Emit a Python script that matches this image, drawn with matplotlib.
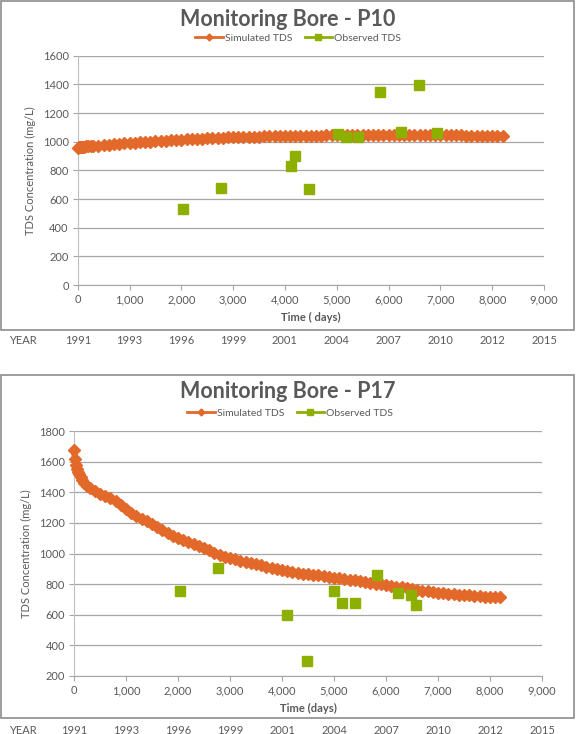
import matplotlib.pyplot as plt
from matplotlib.lines import Line2D
from matplotlib.patches import Rectangle
from matplotlib.ticker import FuncFormatter
import matplotlib.transforms as mtransforms

plt.rcParams['font.family'] = ['Lato', 'DejaVu Sans']

# simulated series time steps (days)
sim_days = [0, 20, 40, 60, 80, 100, 130, 160, 200, 250, 300,
            400, 500, 600, 700, 800, 900, 1000, 1100, 1200, 1300,
            1400, 1500, 1600, 1700, 1800, 1900, 2000, 2100, 2200, 2300,
            2400, 2500, 2600, 2700, 2800, 2900, 3000, 3100, 3200, 3300,
            3400, 3500, 3600, 3700, 3800, 3900, 4000, 4100, 4200, 4300,
            4400, 4500, 4600, 4700, 4800, 4900, 5000, 5100, 5200, 5300,
            5400, 5500, 5600, 5700, 5800, 5900, 6000, 6100, 6200, 6300,
            6400, 6500, 6600, 6700, 6800, 6900, 7000, 7100, 7200, 7300,
            7400, 7500, 7600, 7700, 7800, 7900, 8000, 8100, 8200]

# P10
p10_sim = [955, 960, 962, 963, 964, 965, 966, 967, 968, 969, 970,
           973, 976, 979, 982, 985, 988, 992, 994, 996, 998,
           1000, 1003, 1005, 1007, 1010, 1012, 1015, 1017, 1018, 1020,
           1022, 1024, 1025, 1027, 1029, 1030, 1031, 1032, 1033, 1034,
           1035, 1036, 1037, 1038, 1039, 1039, 1040, 1040, 1041, 1041,
           1042, 1042, 1043, 1043, 1044, 1044, 1045, 1045, 1046, 1046,
           1047, 1048, 1049, 1049, 1050, 1050, 1049, 1049, 1048, 1047,
           1047, 1046, 1046, 1045, 1045, 1045, 1044, 1044, 1044, 1044,
           1044, 1043, 1043, 1043, 1043, 1043, 1043, 1043, 1043]
p10_obs_days = [2040, 2770, 4110, 4200, 4470, 5020, 5170, 5415, 5835, 6235, 6580, 6940]
p10_obs = [528, 680, 830, 900, 670, 1052, 1035, 1035, 1349, 1066, 1398, 1060]

# P17
p17_sim = [1676, 1615, 1580, 1555, 1535, 1520, 1500, 1482, 1462, 1442, 1425,
           1405, 1390, 1375, 1360, 1345, 1320, 1290, 1265, 1245, 1228,
           1212, 1195, 1175, 1155, 1135, 1115, 1100, 1088, 1075, 1064,
           1050, 1035, 1020, 1005, 992, 980, 970, 962, 953, 946,
           938, 930, 922, 915, 906, 898, 890, 884, 879, 873,
           869, 866, 862, 857, 852, 847, 843, 839, 834, 829,
           824, 819, 814, 809, 804, 799, 794, 789, 784, 779,
           773, 767, 762, 757, 752, 748, 745, 742, 738, 735,
           732, 729, 726, 723, 721, 719, 717, 715, 713]
p17_obs_days = [2040, 2765, 4105, 4475, 5005, 5160, 5410, 5820, 6225, 6475, 6570]
p17_obs = [755, 905, 600, 300, 758, 677, 677, 857, 742, 730, 665]

year_labels = ['1991', '1993', '1996', '1999', '2001', '2004', '2007', '2010', '2012', '2015']
year_ticks = [0, 1000, 2000, 3000, 4000, 5000, 6000, 7000, 8000, 9000]

ORANGE = '#E2692A'
GREEN = '#8DB000'
TXT = '#595959'
GRID = '#A6A6A6'

W, H = 577, 734
fig = plt.figure(figsize=(W / 100, H / 100), dpi=100)


def px(x0, y0, x1, y1):
    # pixel box -> figure fraction [left, bottom, width, height]
    return [x0 / W, 1 - y1 / H, (x1 - x0) / W, (y1 - y0) / H]


def panel(box, axbox, title, title_y, leg_y, leg_x, sim, obs_d, obs, ylim, xlabel, year_y):
    b = px(*box)
    fig.patches.append(Rectangle((b[0], b[1]), b[2], b[3], transform=fig.transFigure,
                                 fill=False, edgecolor='#8C8C8C', lw=1.2))
    ax = fig.add_axes(px(*axbox))
    ax.plot(sim_days, sim, color=ORANGE, lw=4.5, marker='D', ms=6.5,
            mec=ORANGE, zorder=3, clip_on=False)
    ax.plot(obs_d, obs, ls='none', marker='s', ms=7.2, color=GREEN, mec=GREEN, zorder=4)
    ax.set_xlim(0, 9000)
    ax.set_ylim(*ylim)
    ax.set_xticks(year_ticks)
    ax.set_yticks(range(ylim[0], ylim[1] + 1, 200))
    ax.xaxis.set_major_formatter(FuncFormatter(lambda v, p: f'{int(v):,}'))
    ax.grid(axis='y', color=GRID, lw=0.9)
    ax.set_axisbelow(True)
    for s in ['top', 'right']:
        ax.spines[s].set_visible(False)
    ax.spines['left'].set_color('#BFBFBF')
    ax.spines['bottom'].set_color('#A6A6A6')
    ax.tick_params(axis='both', colors='#A6A6A6', labelcolor=TXT, labelsize=8, length=3.5, pad=3)
    ax.set_ylabel('TDS Concentration (mg/L)', color=TXT, fontsize=8, labelpad=5)
    ax.set_xlabel(xlabel, color=TXT, fontsize=8, fontweight='bold', labelpad=5)

    fig.text(288 / W, 1 - title_y / H, title, ha='center', va='center',
             fontsize=15.5, fontweight='bold', color=TXT)
    handles = [Line2D([], [], color=ORANGE, lw=2, marker='D', ms=3.5),
               Line2D([], [], color=GREEN, lw=2, marker='s', ms=4.5)]
    fig.legend(handles, ['Simulated TDS', 'Observed TDS'], loc='center',
               bbox_to_anchor=(leg_x / W, 1 - leg_y / H), ncol=2, frameon=False,
               fontsize=7.5, labelcolor=TXT, handlelength=2.6, handletextpad=0.2,
               columnspacing=1.2, borderpad=0)

    tr = mtransforms.blended_transform_factory(ax.transData, fig.transFigure)
    fig.text(22.7 / W, 1 - year_y / H, 'YEAR', ha='center', va='center', fontsize=8, color=TXT)
    for t, lab in zip(year_ticks, year_labels):
        fig.text(t, 1 - year_y / H, lab, transform=tr, ha='center', va='center',
                 fontsize=8, color=TXT)
    return ax


panel((1, 1, 574, 330), (77.7, 55.7, 544, 285), 'Monitoring Bore - P10', 20, 38, 298,
      p10_sim, p10_obs_days, p10_obs, (0, 1600), 'Time ( days)', 341)
panel((1, 375, 574, 718), (74, 431, 542, 676), 'Monitoring Bore - P17', 392, 413, 290,
      p17_sim, p17_obs_days, p17_obs, (200, 1800), 'Time (days)', 730)

fig.savefig('out.png', dpi=100)
